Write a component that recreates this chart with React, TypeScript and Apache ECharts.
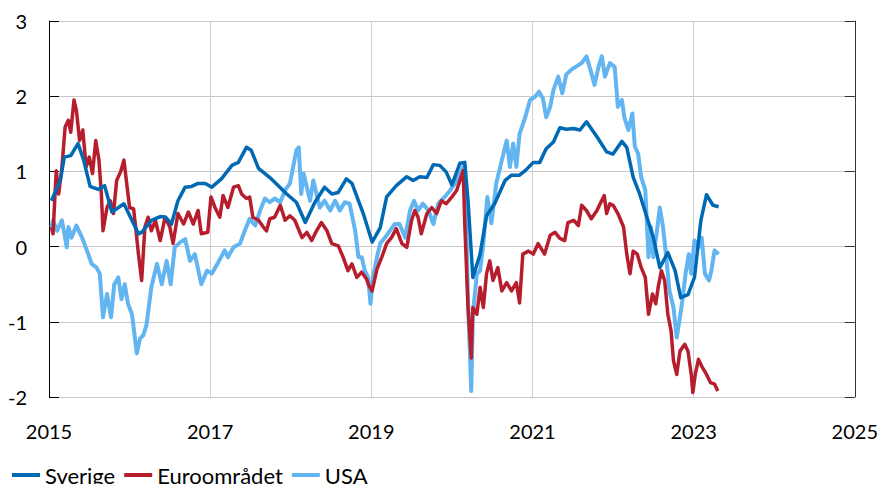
import React, { useEffect, useRef } from "react";
import * as echarts from "echarts";

const seriesNames = ["Sverige", "Euroområdet", "USA"];
const xTicks = [2015, 2017, 2019, 2021, 2023, 2025];
const yTicks = [-2, -1, 0, 1, 2, 3];

const sverigeX = [2015.03,2015.14,2015.19,2015.27,2015.36,2015.43,2015.51,2015.61,2015.69,2015.78,2015.93,2016.11,2016.15,2016.27,2016.38,2016.45,2016.52,2016.60,2016.69,2016.77,2016.85,2016.94,2017.02,2017.14,2017.27,2017.35,2017.45,2017.51,2017.60,2017.76,2017.95,2018.07,2018.18,2018.30,2018.42,2018.51,2018.59,2018.69,2018.76,2018.90,2019.01,2019.11,2019.19,2019.31,2019.44,2019.52,2019.60,2019.69,2019.77,2019.85,2019.93,2020.00,2020.10,2020.16,2020.20,2020.26,2020.35,2020.43,2020.53,2020.66,2020.74,2020.84,2020.91,2021.01,2021.09,2021.17,2021.26,2021.34,2021.42,2021.51,2021.59,2021.67,2021.80,2021.92,2022.00,2022.11,2022.17,2022.25,2022.33,2022.42,2022.50,2022.58,2022.68,2022.77,2022.84,2022.93,2023.01,2023.09,2023.16,2023.24,2023.31];
const sverigeY = [0.61,0.88,1.19,1.21,1.37,1.15,0.80,0.76,0.81,0.46,0.57,0.17,0.19,0.35,0.40,0.39,0.30,0.61,0.79,0.80,0.84,0.84,0.79,0.90,1.08,1.12,1.32,1.28,1.04,0.90,0.70,0.59,0.32,0.59,0.79,0.70,0.72,0.90,0.84,0.44,0.06,0.25,0.66,0.81,0.93,0.88,0.93,0.92,1.09,1.08,0.99,0.82,1.11,1.12,0.61,-0.41,-0.10,0.41,0.57,0.88,0.95,0.95,1.01,1.12,1.12,1.30,1.39,1.58,1.56,1.57,1.55,1.66,1.46,1.26,1.23,1.40,1.32,0.92,0.70,0.39,0.12,-0.28,-0.08,-0.32,-0.68,-0.64,-0.41,0.35,0.69,0.55,0.53];

const euroX = [2015.03,2015.05,2015.09,2015.12,2015.16,2015.20,2015.24,2015.27,2015.31,2015.34,2015.38,2015.42,2015.46,2015.50,2015.54,2015.58,2015.62,2015.65,2015.67,2015.72,2015.76,2015.80,2015.84,2015.89,2015.93,2015.96,2016.00,2016.05,2016.08,2016.11,2016.15,2016.19,2016.23,2016.27,2016.32,2016.38,2016.44,2016.50,2016.54,2016.60,2016.67,2016.73,2016.79,2016.85,2016.89,2016.97,2017.01,2017.06,2017.12,2017.16,2017.22,2017.29,2017.35,2017.39,2017.45,2017.49,2017.53,2017.60,2017.66,2017.70,2017.74,2017.80,2017.87,2017.93,2017.99,2018.05,2018.14,2018.20,2018.26,2018.32,2018.38,2018.45,2018.51,2018.59,2018.65,2018.71,2018.76,2018.82,2018.88,2018.94,2018.97,2019.01,2019.07,2019.13,2019.19,2019.25,2019.31,2019.38,2019.44,2019.50,2019.54,2019.58,2019.62,2019.69,2019.75,2019.81,2019.87,2019.93,2020.00,2020.06,2020.10,2020.14,2020.16,2020.20,2020.24,2020.26,2020.31,2020.35,2020.39,2020.43,2020.47,2020.51,2020.57,2020.62,2020.68,2020.74,2020.80,2020.84,2020.88,2020.95,2021.01,2021.07,2021.15,2021.22,2021.28,2021.34,2021.40,2021.44,2021.51,2021.57,2021.61,2021.67,2021.73,2021.80,2021.84,2021.89,2021.92,2021.96,2022.00,2022.06,2022.13,2022.17,2022.21,2022.25,2022.30,2022.35,2022.40,2022.44,2022.49,2022.53,2022.56,2022.60,2022.64,2022.68,2022.72,2022.75,2022.79,2022.83,2022.89,2022.93,2022.97,2022.99,2023.02,2023.06,2023.11,2023.16,2023.21,2023.26,2023.30];
const euroY = [0.26,0.17,1.01,0.70,1.05,1.59,1.68,1.52,1.95,1.81,1.41,1.55,1.06,1.19,0.97,1.41,1.15,0.70,0.21,0.52,0.61,0.44,0.88,1.00,1.15,0.88,0.52,0.50,0.21,-0.10,-0.45,0.26,0.39,0.21,0.35,0.08,0.39,0.26,0.04,0.44,0.30,0.46,0.30,0.48,0.17,0.19,0.66,0.52,0.39,0.68,0.52,0.79,0.81,0.70,0.64,0.66,0.39,0.35,0.26,0.21,0.37,0.39,0.55,0.35,0.41,0.35,0.12,0.19,0.08,0.21,0.32,0.21,0.04,0.01,-0.14,-0.32,-0.23,-0.41,-0.34,-0.43,-0.52,-0.59,-0.30,-0.14,0.04,0.12,0.24,0.04,-0.01,0.35,0.48,0.39,0.17,0.44,0.52,0.44,0.61,0.57,0.66,0.75,0.88,1.01,0.30,-0.81,-1.48,-0.81,-0.90,-0.54,-0.81,-0.36,-0.19,-0.45,-0.28,-0.59,-0.48,-0.59,-0.48,-0.75,-0.10,-0.06,-0.10,0.04,-0.10,0.15,0.19,0.11,0.08,0.32,0.35,0.28,0.55,0.48,0.37,0.48,0.57,0.68,0.44,0.57,0.55,0.44,0.26,-0.10,-0.36,-0.06,-0.10,-0.28,-0.41,-0.90,-0.63,-0.76,-0.54,-0.32,-0.45,-0.90,-1.12,-1.52,-1.70,-1.39,-1.30,-1.39,-1.70,-1.94,-1.70,-1.50,-1.61,-1.70,-1.81,-1.83,-1.92];

const usaX = [2015.03,2015.05,2015.10,2015.16,2015.20,2015.22,2015.24,2015.28,2015.34,2015.41,2015.47,2015.53,2015.59,2015.63,2015.67,2015.72,2015.77,2015.81,2015.86,2015.90,2015.94,2015.98,2016.03,2016.09,2016.13,2016.17,2016.21,2016.27,2016.34,2016.40,2016.46,2016.51,2016.56,2016.63,2016.69,2016.75,2016.81,2016.89,2016.96,2017.02,2017.10,2017.18,2017.22,2017.29,2017.37,2017.43,2017.49,2017.56,2017.62,2017.68,2017.74,2017.80,2017.87,2017.93,2017.99,2018.03,2018.07,2018.10,2018.13,2018.16,2018.20,2018.24,2018.28,2018.32,2018.36,2018.42,2018.49,2018.55,2018.61,2018.67,2018.73,2018.80,2018.84,2018.88,2018.92,2018.96,2018.99,2019.02,2019.07,2019.11,2019.17,2019.23,2019.29,2019.35,2019.42,2019.48,2019.53,2019.58,2019.64,2019.71,2019.77,2019.83,2019.91,2019.98,2020.04,2020.10,2020.14,2020.17,2020.20,2020.24,2020.26,2020.31,2020.35,2020.39,2020.44,2020.49,2020.55,2020.62,2020.68,2020.72,2020.76,2020.80,2020.84,2020.91,2020.97,2021.03,2021.08,2021.13,2021.17,2021.22,2021.26,2021.32,2021.37,2021.42,2021.49,2021.55,2021.61,2021.67,2021.72,2021.77,2021.82,2021.86,2021.90,2021.96,2022.02,2022.06,2022.11,2022.14,2022.19,2022.24,2022.27,2022.31,2022.35,2022.40,2022.44,2022.47,2022.50,2022.54,2022.58,2022.62,2022.66,2022.70,2022.75,2022.79,2022.83,2022.86,2022.90,2022.94,2022.97,2023.01,2023.06,2023.10,2023.14,2023.19,2023.22,2023.26,2023.31];
const usaY = [0.26,0.35,0.21,0.35,0.12,-0.01,0.26,0.12,0.28,0.12,-0.05,-0.23,-0.28,-0.36,-0.94,-0.63,-0.94,-0.50,-0.41,-0.70,-0.50,-0.76,-0.90,-1.42,-1.22,-1.18,-1.04,-0.54,-0.23,-0.50,-0.19,-0.50,-0.01,0.06,0.10,-0.19,-0.10,-0.50,-0.32,-0.36,-0.21,-0.05,-0.14,-0.01,0.04,0.21,0.37,0.28,0.48,0.64,0.59,0.64,0.59,0.75,0.84,1.06,1.28,1.32,0.70,0.97,0.79,0.61,0.88,0.70,0.52,0.61,0.48,0.61,0.48,0.59,0.57,0.21,-0.14,-0.14,-0.32,-0.41,-0.76,-0.41,-0.14,0.04,0.12,0.21,0.30,0.30,0.12,0.48,0.61,0.48,0.57,0.48,0.30,0.57,0.66,0.75,0.84,0.97,1.06,0.61,-0.72,-1.92,-0.90,-0.36,-0.32,0.04,0.66,0.31,0.84,1.15,1.41,1.06,1.37,1.06,1.50,1.72,1.95,1.99,2.06,1.97,1.72,1.86,2.08,2.26,2.04,2.29,2.36,2.40,2.44,2.53,2.35,2.15,2.39,2.53,2.26,2.44,2.39,1.86,1.95,1.72,1.55,1.77,1.33,1.24,0.92,0.75,-0.14,0.26,-0.14,0.17,0.52,0.26,-0.14,-0.59,-0.81,-1.21,-0.94,-0.72,-0.36,-0.10,-0.36,0.08,-0.01,0.12,-0.36,-0.45,-0.32,-0.05,-0.10];

const colors = { Sverige: "#0069B4", "Euroområdet": "#B71E2D", USA: "#62B5F1" };

function pairs(xs: number[], ys: number[]) {
  return xs.map((x, i) => [x, ys[i]]);
}

export default function App() {
  const ref = useRef<HTMLDivElement>(null);
  useEffect(() => {
    if (!ref.current) return;
    const chart = echarts.init(ref.current, undefined, { renderer: "svg" });
    const font = "Lato";
    const mkLine = (name: string, xs: number[], ys: number[], width: number, z: number) => ({
      name,
      type: "line",
      data: pairs(xs, ys),
      showSymbol: false,
      symbol: "none",
      z,
      itemStyle: { color: (colors as any)[name] },
      lineStyle: { color: (colors as any)[name], width, join: "round" },
    });
    chart.setOption({
      animation: false,
      backgroundColor: "#ffffff",
      textStyle: { fontFamily: font },
      grid: { left: 49, right: 26, top: 21, bottom: 87, containLabel: false },
      legend: {
        data: seriesNames,
        left: 7,
        top: 459,
        icon: "rect",
        itemWidth: 28,
        itemHeight: 4,
        itemGap: 9,
        textStyle: { fontSize: 22, color: "#000", fontFamily: font },
      },
      xAxis: {
        type: "value",
        min: xTicks[0],
        max: xTicks[xTicks.length - 1],
        interval: 2,
        axisLine: { show: true, lineStyle: { color: "#c8c8c8", width: 1 } },
        axisTick: { show: false },
        axisLabel: { fontSize: 20, color: "#000", margin: 24, fontFamily: font, formatter: (v: number) => String(Math.round(v)) },
        splitLine: { show: true, lineStyle: { color: "#cfcfcf", width: 1 } },
      },
      yAxis: [
        {
          type: "value",
          min: yTicks[0],
          max: yTicks[yTicks.length - 1],
          interval: 1,
          position: "left",
          axisLine: { show: true, onZero: false, lineStyle: { color: "#000", width: 1 } },
          axisTick: { show: true, inside: true, length: 10, lineStyle: { color: "#000" } },
          axisLabel: { fontSize: 20, color: "#000", margin: 22, fontFamily: font },
          splitLine: { show: true, lineStyle: { color: "#c8c8c8", width: 1 } },
        },
        {
          type: "value",
          min: yTicks[0],
          max: yTicks[yTicks.length - 1],
          interval: 1,
          position: "right",
          axisLine: { show: true, onZero: false, lineStyle: { color: "#333", width: 1 } },
          axisTick: { show: true, inside: true, length: 10, lineStyle: { color: "#333" } },
          axisLabel: { show: false },
          splitLine: { show: false },
        },
      ],
      series: [
        mkLine("USA", usaX, usaY, 4, 2),
        mkLine("Euroområdet", euroX, euroY, 3.5, 3),
        mkLine("Sverige", sverigeX, sverigeY, 3.5, 4),
      ],
    });
    return () => chart.dispose();
  }, []);
  return <div ref={ref} style={{ width: 881, height: 484, position: "absolute", left: 0, top: 0 }} />;
}
